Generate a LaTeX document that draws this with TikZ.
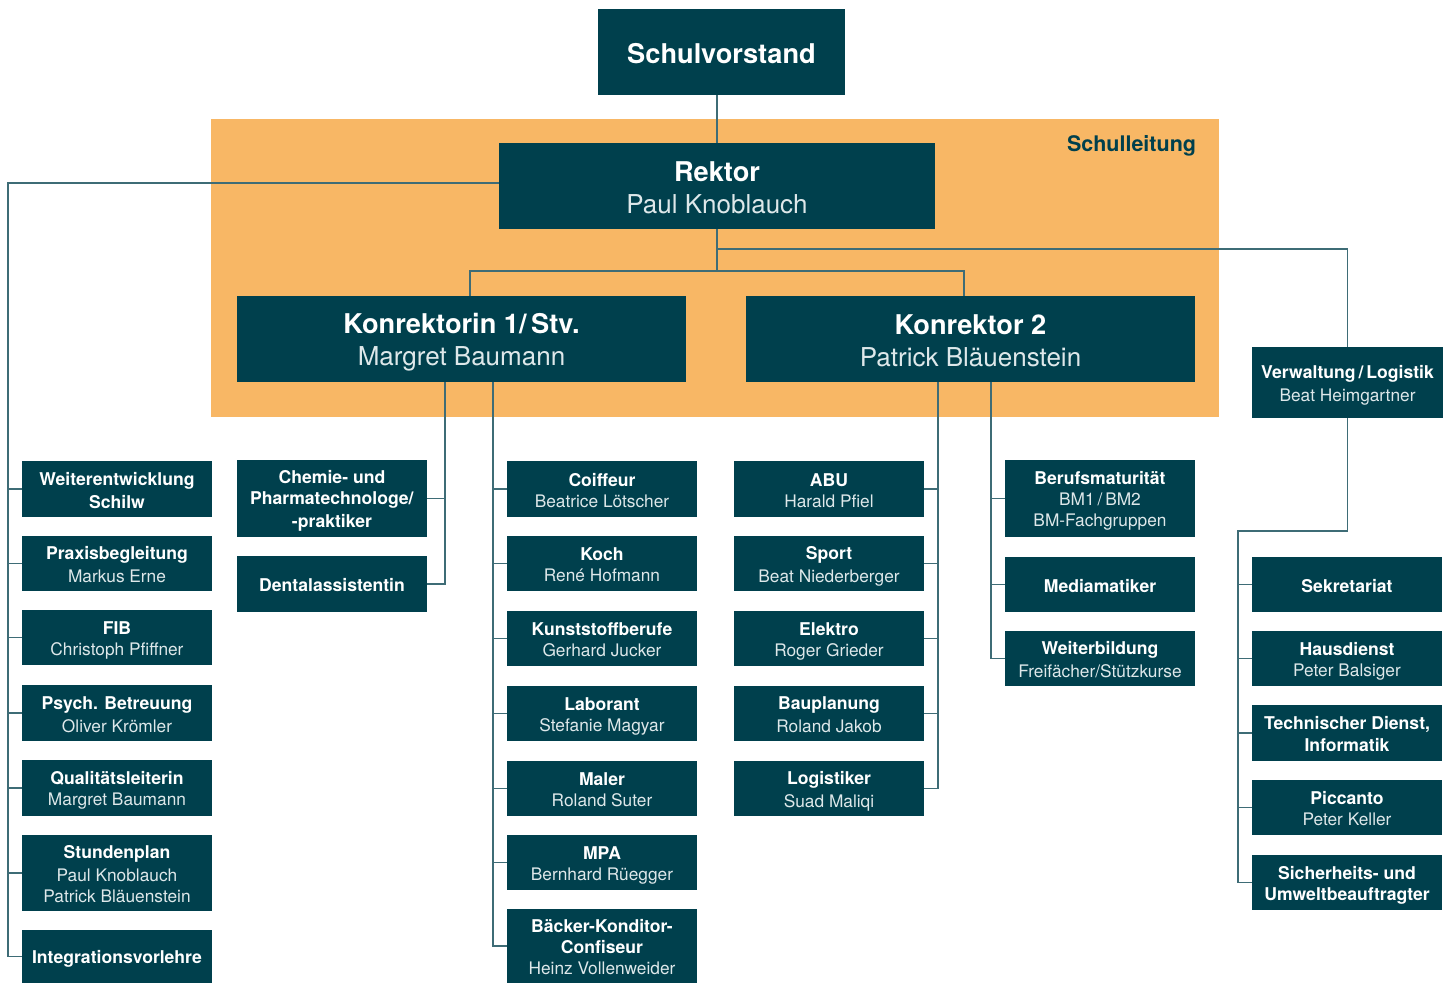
\documentclass[tikz,border=0pt]{standalone}
\usepackage{fontspec}
\setmainfont{TeX Gyre Heros}
\usetikzlibrary{calc}
\definecolor{teal0}{RGB}{0,64,77}
\definecolor{orng}{RGB}{248,183,101}
\definecolor{lnc}{RGB}{62,108,118}
\definecolor{namec}{RGB}{222,232,234}
\pgfdeclarelayer{bg}\pgfdeclarelayer{lines}
\pgfsetlayers{bg,lines,main}
\newcommand\lnstrut{\rule[-0.14\baselineskip]{0pt}{\baselineskip}}
\newcommand\pname[1]{\lnstrut{\color{namec}\fontsize{\namesize}{\baselineskip}\selectfont#1}}
\newcommand\ttl[1]{\lnstrut\textbf{#1}}
\newcommand\namesize{17}
\tikzset{
  box/.style={fill=teal0, text=white, inner sep=0pt, align=center,
    minimum width=190pt, minimum height=56pt, font=\fontsize{17.6}{21}\selectfont\renewcommand\namesize{17.3}},
  big/.style={box, minimum width=449pt, minimum height=86pt, font=\fontsize{27.2}{32}\selectfont\renewcommand\namesize{26}},
  conn/.style={draw=lnc, line width=1.4pt},
}
\begin{document}
\begin{tikzpicture}[x=1pt,y=-1pt]
\useasboundingbox (0,0) rectangle (1453,983);
% top boxes
\node[big, minimum width=247pt] (sv) at (721.5,52) {\ttl{Schulvorstand}};
\node[big, minimum width=436pt] (rek) at (717,186) {\ttl{Rektor}\\\pname{Paul Knoblauch}};
\node[big] (k1) at (461.5,339) {\ttl{Konrektorin 1/\,Stv.}\\\pname{Margret Baumann}};
\node[big] (k2) at (970.5,339) {\ttl{Konrektor 2}\\\pname{Patrick Bläuenstein}};
\node[box, minimum width=191pt, minimum height=71pt] (verw) at (1347.5,382.5) {\ttl{Verwaltung\,/\,Logistik}\\\pname{Beat Heimgartner}};
\node[text=teal0, font=\fontsize{21.5}{24}\selectfont\bfseries] (sl) at (1131.5,146) {Schulleitung};
% left column
\node[box] (a1) at (117,489) {\ttl{Weiterentwicklung}\\\ttl{Schilw}};
\node[box, minimum height=55pt] (a2) at (117,563.5) {\ttl{Praxisbegleitung}\\\pname{Markus Erne}};
\node[box, minimum height=55pt] (a3) at (117,637.5) {\ttl{FIB}\\\pname{Christoph Pfiffner}};
\node[box] (a4) at (117,713) {\ttl{Psych. Betreuung}\\\pname{Oliver Krömler}};
\node[box] (a5) at (117,788) {\ttl{Qualitätsleiterin}\\\pname{Margret Baumann}};
\node[box, minimum height=76pt] (a6) at (117,873) {\ttl{Stundenplan}\\\pname{Paul Knoblauch}\\\pname{Patrick Bläuenstein}};
\node[box, minimum height=53pt] (a7) at (117,956.5) {\ttl{Integrationsvorlehre}};
% column 2
\node[box, minimum height=77pt] (b1) at (332,498.5) {\ttl{Chemie- und}\\\ttl{Pharmatechnologe/}\\\ttl{-praktiker}};
\node[box] (b2) at (332,584) {\ttl{Dentalassistentin}};
% column 3
\node[box] (c1) at (602,489) {\ttl{Coiffeur}\\\pname{Beatrice Lötscher}};
\node[box, minimum height=55pt] (c2) at (602,563.5) {\ttl{Koch}\\\pname{René Hofmann}};
\node[box, minimum height=55pt] (c3) at (602,638.5) {\ttl{Kunststoffberufe}\\\pname{Gerhard Jucker}};
\node[box, minimum height=55pt] (c4) at (602,713.5) {\ttl{Laborant}\\\pname{Stefanie Magyar}};
\node[box, minimum height=55pt] (c5) at (602,788.5) {\ttl{Maler}\\\pname{Roland Suter}};
\node[box, minimum height=55pt] (c6) at (602,862.5) {\ttl{MPA}\\\pname{Bernhard Rüegger}};
\node[box, minimum height=74pt] (c7) at (602,946) {\ttl{Bäcker-Konditor-}\\\ttl{Confiseur}\\\pname{Heinz Vollenweider}};
% column 4
\node[box] (d1) at (829,489) {\ttl{ABU}\\\pname{Harald Pfiel}};
\node[box, minimum height=55pt] (d2) at (829,563.5) {\ttl{Sport}\\\pname{Beat Niederberger}};
\node[box, minimum height=55pt] (d3) at (829,638.5) {\ttl{Elektro}\\\pname{Roger Grieder}};
\node[box, minimum height=55pt] (d4) at (829,713.5) {\ttl{Bauplanung}\\\pname{Roland Jakob}};
\node[box, minimum height=55pt] (d5) at (829,788.5) {\ttl{Logistiker}\\\pname{Suad Maliqi}};
% column 5
\node[box, minimum height=77pt] (e1) at (1100,498.5) {\ttl{Berufsmaturität}\\\pname{BM1\,/\,BM2}\\\pname{BM-Fachgruppen}};
\node[box, minimum height=55pt] (e2) at (1100,584.5) {\ttl{Mediamatiker}};
\node[box, minimum height=55pt] (e3) at (1100,658.5) {\ttl{Weiterbildung}\\\pname{Freifächer/Stützkurse}};
% column 6
\node[box, minimum height=55pt] (f1) at (1347,584.5) {\ttl{Sekretariat}};
\node[box, minimum height=55pt] (f2) at (1347,658.5) {\ttl{Hausdienst}\\\pname{Peter Balsiger}};
\node[box] (f3) at (1347,733) {\ttl{Technischer Dienst,}\\\ttl{Informatik}};
\node[box, minimum height=55pt] (f4) at (1347,807.5) {\ttl{Piccanto}\\\pname{Peter Keller}};
\node[box, minimum height=55pt] (f5) at (1347,882.5) {\ttl{Sicherheits- und}\\\ttl{Umweltbeauftragter}};
% background
\begin{pgfonlayer}{bg}
\fill[orng] (211,119) rectangle (1219,417);
\end{pgfonlayer}
% connectors
\coordinate (jr) at (717,271);
\coordinate (jv) at (717,249);
\coordinate (lt) at (8,183);
\coordinate (t2) at (445,0);
\coordinate (t3) at (493,0);
\coordinate (t4) at (938,0);
\coordinate (t5) at (991,0);
\coordinate (t6) at (1238,531);
\begin{pgfonlayer}{lines}
\draw[conn] (sv.south -| rek.north) -- (rek.north);
\draw[conn] (rek.south) -- (jr);
\draw[conn] ([xshift=8.5pt]k1.north) |- (jr) -| ([xshift=-6.5pt]k2.north);
\draw[conn] (jv) -| (verw.north);
\draw[conn] (rek.west |- lt) -- (lt) |- (a7.west);
\foreach \n in {a1,a2,a3,a4,a5,a6} \draw[conn] (\n.west) -- (\n.west -| lt);
\draw[conn] (k1.south -| t2) |- (b2.east);
\draw[conn] (b1.east) -- (b1.east -| t2);
\draw[conn] (k1.south -| t3) |- (c7.west);
\foreach \n in {c1,c2,c3,c4,c5,c6} \draw[conn] (\n.west) -- (\n.west -| t3);
\draw[conn] (k2.south -| t4) |- (d5.east);
\foreach \n in {d1,d2,d3,d4} \draw[conn] (\n.east) -- (\n.east -| t4);
\draw[conn] (k2.south -| t5) |- (e3.west);
\foreach \n in {e1,e2} \draw[conn] (\n.west) -- (\n.west -| t5);
\draw[conn] (verw.south) |- (t6) |- (f5.west);
\foreach \n in {f1,f2,f3,f4} \draw[conn] (\n.west) -- (\n.west -| t6);
\end{pgfonlayer}
\end{tikzpicture}
\end{document}
